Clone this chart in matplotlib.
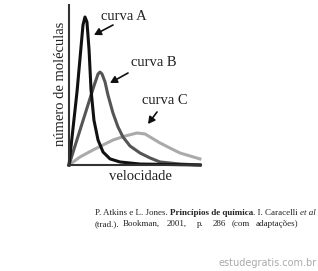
import matplotlib
matplotlib.use("Agg")
import matplotlib.pyplot as plt

# ---- data ----
a_x = [0, 6.1, 10.6, 12.1, 13.6, 15.2, 16.7, 18.9, 22, 25.8, 31.1, 38.6, 53.8, 99.2]
a_y = [0, 46, 87.5, 92.5, 89.4, 71.9, 46.9, 28, 15.6, 8.1, 3.8, 1.9, 0.6, 0]

b_x = [0, 18.9, 22, 23.5, 25, 27.3, 29.5, 33.3, 37.1, 40.9, 46.2, 53.8, 61.4, 68.9, 84.1, 99.2]
b_y = [0, 49.4, 56.9, 58.1, 56.9, 51.9, 43.8, 32.5, 23.8, 17.5, 11.9, 7.5, 4.4, 1.9, 0.6, 0]

c_x = [0, 8.3, 18.2, 33.3, 42.4, 51.5, 57.6, 68.9, 76.5, 84.1, 99.2]
c_y = [0, 5, 9.4, 15.6, 18.1, 20, 19.4, 13.8, 10.6, 7.5, 3.8]

curve_labels = ["curva A", "curva B", "curva C"]
x_label = "velocidade"
y_label = "número de moléculas"
line2_words = ["(trad.).", "Bookman,", "2001,", "p.", "286", "(com", "adaptações)"]
watermark = "estudegratis.com.br"

W, H = 318, 271
fig = plt.figure(figsize=(W / 100, H / 100), dpi=100)
fig.patch.set_facecolor("white")


def px(x, y):
    return (x / W, 1 - y / H)


ax = fig.add_axes([69 / W, (H - 165) / H, (201 - 69) / W, (165 - 5) / H])
ax.set_xlim(0, 100)
ax.set_ylim(0, 100)
for s in ["top", "right"]:
    ax.spines[s].set_visible(False)
for s in ["left", "bottom"]:
    ax.spines[s].set_linewidth(1.5)
    ax.spines[s].set_color("#333333")
ax.set_xticks([])
ax.set_yticks([])
ax.patch.set_alpha(0)

ax.plot(c_x, c_y, color="#aaaaaa", lw=2.2, solid_joinstyle="round", clip_on=False)
ax.plot(b_x, b_y, color="#555555", lw=2.2, solid_joinstyle="round", clip_on=False)
ax.plot(a_x, a_y, color="#111111", lw=2.2, solid_joinstyle="round", clip_on=False)

serif = "Liberation Serif"
fs = 10.5
fig.text(*px(124, 17), curve_labels[0], family=serif, fontsize=fs, ha="center", va="center", color="#222222")
fig.text(*px(154, 62), curve_labels[1], family=serif, fontsize=fs, ha="center", va="center", color="#222222")
fig.text(*px(165, 100), curve_labels[2], family=serif, fontsize=fs, ha="center", va="center", color="#222222")
fig.text(*px(140, 176), x_label, family=serif, fontsize=fs, ha="center", va="center", color="#222222")
fig.text(*px(60, 84), y_label, family=serif, fontsize=fs, ha="center", va="center", rotation=90, color="#222222")

arrows = [((113, 25), (94, 35)), ((128, 73), (110, 83)), ((157, 112), (148, 124))]
for start, end in arrows:
    fig.add_artist(matplotlib.patches.FancyArrowPatch(
        px(*start), px(*end), transform=fig.transFigure,
        arrowstyle="-|>,head_length=4,head_width=2.2", color="#111111", lw=1.2,
        shrinkA=0, shrinkB=0))

# citation line 1 (chained segments)
cfs = 6.5
renderer = fig.canvas.get_renderer()
segments = [("P. Atkins e L. Jones. ", "normal", "normal"),
            ("Princípios de química", "bold", "normal"),
            (". I. Caracelli ", "normal", "normal"),
            ("et al", "normal", "italic")]
x0 = 95
for txt, wt, st in segments:
    t = fig.text(*px(x0, 213), txt, family=serif, fontsize=cfs, weight=wt, style=st,
                 ha="left", va="center", color="#222222")
    bb = t.get_window_extent(renderer)
    x0 += bb.width

# citation line 2 (justified)
word_x = [95, 123, 167, 197, 213, 232, 256]
for w, xx in zip(line2_words, word_x):
    fig.text(*px(xx, 224), w, family=serif, fontsize=cfs, ha="left", va="center", color="#222222")

fig.text(*px(317, 263), watermark, family="DejaVu Sans", fontsize=7, ha="right", va="center", color="#aaaaaa")

fig.savefig("out.png", dpi=100, facecolor="white")
